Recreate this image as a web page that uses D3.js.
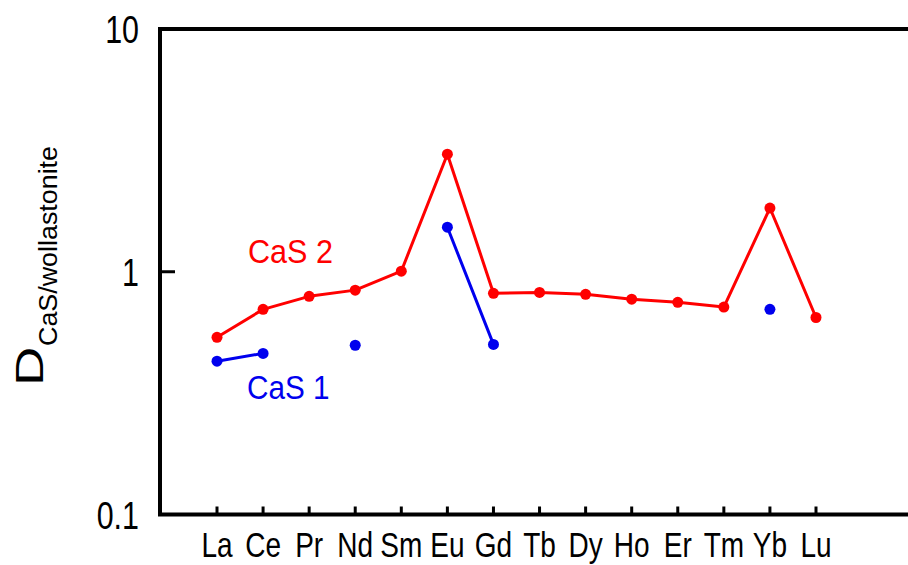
<!DOCTYPE html>
<html><head><meta charset="utf-8">
<script src="https://cdn.jsdelivr.net/npm/d3@7"></script>
<style>html,body{margin:0;padding:0;background:#fff;}svg{display:block;}</style>
</head><body>
<svg id="c" width="908" height="565"></svg>
<script>
const elements = ["La","Ce","Pr","Nd","Sm","Eu","Gd","Tb","Dy","Ho","Er","Tm","Yb","Lu"];
const cas2 = [0.537,0.700,0.792,0.840,1.005,3.05,0.815,0.822,0.807,0.771,0.748,0.715,1.83,0.648];
const cas1 = [0.428,0.461,null,0.498,null,1.526,0.502,null,null,null,null,null,0.700,null];
const yTickValues = [0.1,1,10];
const yTickLabels = ["0.1","1","10"];

const W = 908, H = 565;
const svg = d3.select("#c");
const x = d3.scalePoint().domain(elements).range([217, 816]).padding(0);
const y = d3.scaleLog().domain([0.1, 10]).range([514.5, 29]);
const font = "'Liberation Sans', Arial, sans-serif";

// frame
const axisG = svg.append("g").attr("stroke","#000").attr("stroke-width",4).attr("fill","none");
axisG.append("path").attr("d", `M${W+5},${y(10)}H${160}V${y(0.1)}H${W+5}`).attr("stroke-linejoin","miter");
// x ticks (inward)
axisG.selectAll("line.xt").data(elements).join("line")
  .attr("x1", d=>x(d)).attr("x2", d=>x(d))
  .attr("y1", y(0.1)).attr("y2", y(0.1)-8).attr("stroke-width",3);
// y tick at 1 (inward)
axisG.selectAll("line.yt").data([1]).join("line")
  .attr("x1",160).attr("x2",175).attr("y1",d=>y(d)).attr("y2",d=>y(d)).attr("stroke-width",3);

// y tick labels
svg.selectAll("text.yl").data(yTickValues).join("text")
  .attr("transform", d=>`translate(139,${y(d)+14}) scale(0.78,1)`)
  .attr("text-anchor","end").attr("font-family",font).attr("font-size",39)
  .attr("fill","#000").text((d,i)=>yTickLabels[i]);

// x tick labels
svg.selectAll("text.xl").data(elements).join("text")
  .attr("transform", d=>`translate(${x(d)},557) scale(0.8,1)`)
  .attr("text-anchor","middle").attr("font-family",font).attr("font-size",35)
  .attr("fill","#000").text(d=>d);

// y axis title
const yt = svg.append("g").attr("transform","translate(43,386) rotate(-90)");
yt.append("text").attr("transform","scale(1.4,1)").attr("font-family",font).attr("font-size",39).attr("fill","#000").text("D");
yt.append("text").attr("x",40).attr("y",14).attr("font-family",font).attr("font-size",25)
  .attr("textLength",200).attr("lengthAdjust","spacingAndGlyphs").attr("fill","#000").text("CaS/wollastonite");

// series
const red = "#ff0000", blue = "#0000ee";
function drawSeries(vals, color){
  const pts = elements.map((e,i)=>({e, v: vals[i]}));
  const line = d3.line().defined(d=>d.v!=null).x(d=>x(d.e)).y(d=>y(d.v));
  svg.append("path").datum(pts).attr("d", line).attr("fill","none")
     .attr("stroke", color).attr("stroke-width",3).attr("stroke-linejoin","round");
  svg.append("g").selectAll("circle").data(pts.filter(d=>d.v!=null)).join("circle")
     .attr("cx", d=>x(d.e)).attr("cy", d=>y(d.v)).attr("r",5.5).attr("fill",color);
}
drawSeries(cas1, blue);
drawSeries(cas2, red);

// series labels
svg.append("text").attr("transform","translate(248,263) scale(0.9,1)").attr("font-family",font)
  .attr("font-size",34).attr("fill",red).text("CaS 2");
svg.append("text").attr("transform","translate(247,399) scale(0.9,1)").attr("font-family",font)
  .attr("font-size",33).attr("fill",blue).text("CaS 1");
</script>
</body></html>
